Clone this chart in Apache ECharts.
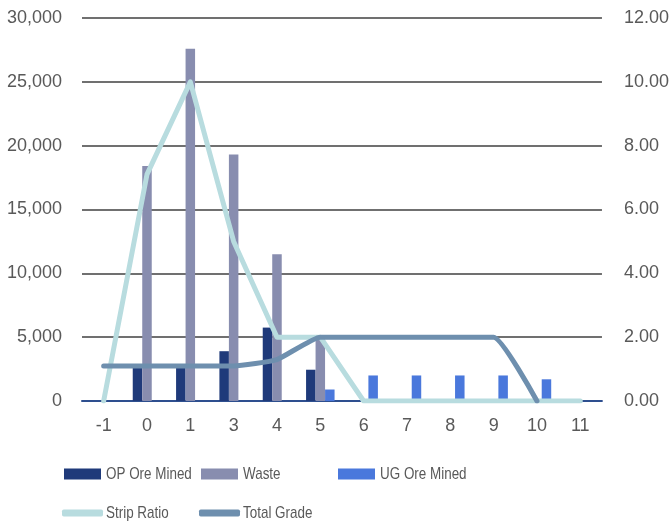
<!DOCTYPE html>
<html>
<head>
<meta charset="utf-8">
<script src="https://cdn.jsdelivr.net/npm/echarts@6/dist/echarts.min.js"></script>
<style>
  html, body { margin: 0; padding: 0; background: #ffffff; }
  #chart { width: 672px; height: 525px; }
</style>
</head>
<body>
<div id="chart"></div>
<script>
// Mining schedule by period
const periods = ['-1', '0', '1', '3', '4', '5', '6', '7', '8', '9', '10', '11'];
const opOreMined = [null, 2600, 2750, 3900, 5750, 2450, null, null, null, null, null, null];
const waste      = [null, 18400, 27600, 19300, 11500, 5000, null, null, null, null, null, null];
const ugOreMined = [null, null, null, null, null, 900, 2000, 2000, 2000, 2000, 1700, null];
const stripRatio = [0, 7.1, 10, 5, 2, 2, 0, 0, 0, 0, 0, 0];
const totalGrade = [1.1, 1.1, 1.1, 1.1, 1.3, 2, 2, 2, 2, 2, 0, null];
const seriesNames = ['OP Ore Mined', 'Waste', 'UG Ore Mined', 'Strip Ratio', 'Total Grade'];

const leftTicks = { min: 0, max: 30000, interval: 5000 };
const rightTicks = { min: 0, max: 12, interval: 2 };

const FONT = '"Liberation Sans", Arial, sans-serif';
const TEXT = '#595959';

const colors = {
  op: '#1F3A7A',
  waste: '#888DAF',
  ug: '#4A78DC',
  strip: '#B8DCDF',
  grade: '#6E8FAE'
};

// Legend layout: two rows, fixed columns; labels set in a condensed face
const legendSlots = [
  { left: 64, top: 468.5, textX: 106, textY: 474.5, line: false },
  { left: 201, top: 468.5, textX: 243, textY: 474.5, line: false },
  { left: 338, top: 468.5, textX: 380, textY: 474.5, line: false },
  { left: 62, top: 509.5, textX: 106, textY: 513, line: true },
  { left: 199, top: 509.5, textX: 243, textY: 513, line: true }
];

const legends = seriesNames.map((name, i) => {
  const s = legendSlots[i];
  return {
    data: [name],
    left: s.left,
    top: s.top,
    padding: 0,
    itemGap: 0,
    itemWidth: s.line ? 41 : 37,
    itemHeight: s.line ? 7 : 11,
    icon: s.line ? 'roundRect' : 'rect',
    selectedMode: false,
    formatter: () => '',
    textStyle: { fontSize: 1 }
  };
});

const legendTexts = seriesNames.map((name, i) => {
  const s = legendSlots[i];
  return {
    type: 'text',
    x: s.textX,
    y: s.textY,
    scaleX: 0.79,
    scaleY: 1,
    silent: true,
    style: {
      text: name,
      x: 0,
      y: 0,
      font: '17px ' + FONT,
      fill: TEXT,
      textAlign: 'left',
      textVerticalAlign: 'middle',
      verticalAlign: 'middle'
    }
  };
});

const chart = echarts.init(document.getElementById('chart'), null, { renderer: 'canvas' });
chart.setOption({
  animation: false,
  backgroundColor: '#ffffff',
  grid: { left: 82, right: 69, top: 18, bottom: 124, containLabel: false },
  legend: legends,
  graphic: legendTexts,
  xAxis: {
    type: 'category',
    data: periods,
    axisLine: { show: true, lineStyle: { color: '#2E4F8F', width: 2 } },
    axisTick: { show: false },
    axisLabel: { margin: 16, fontFamily: FONT, fontSize: 18, color: TEXT }
  },
  yAxis: [
    {
      type: 'value',
      min: leftTicks.min, max: leftTicks.max, interval: leftTicks.interval,
      axisLine: { show: false },
      axisTick: { show: false },
      splitLine: { show: true, lineStyle: { color: '#404040', width: 1.5 } },
      axisLabel: {
        margin: 20, fontFamily: FONT, fontSize: 18, color: TEXT,
        formatter: v => v.toLocaleString('en-US')
      }
    },
    {
      type: 'value',
      min: rightTicks.min, max: rightTicks.max, interval: rightTicks.interval,
      axisLine: { show: false },
      axisTick: { show: false },
      splitLine: { show: false },
      axisLabel: {
        margin: 22, fontFamily: FONT, fontSize: 18, color: TEXT,
        formatter: v => v.toFixed(2)
      }
    }
  ],
  series: [
    { name: seriesNames[0], type: 'bar', data: opOreMined, barWidth: 9.5, barGap: '0%',
      itemStyle: { color: colors.op }, z: 2 },
    { name: seriesNames[1], type: 'bar', data: waste, barWidth: 9.5, barGap: '0%',
      itemStyle: { color: colors.waste }, z: 2 },
    { name: seriesNames[2], type: 'bar', data: ugOreMined, barWidth: 9.5, barGap: '0%',
      itemStyle: { color: colors.ug }, z: 2 },
    { name: seriesNames[3], type: 'line', yAxisIndex: 1, data: stripRatio,
      showSymbol: false, symbol: 'none',
      lineStyle: { color: colors.strip, width: 5, cap: 'round', join: 'round' },
      itemStyle: { color: colors.strip }, z: 3 },
    { name: seriesNames[4], type: 'line', yAxisIndex: 1, data: totalGrade,
      showSymbol: false, symbol: 'none', smooth: 0.15,
      lineStyle: { color: colors.grade, width: 5, cap: 'round', join: 'round' },
      itemStyle: { color: colors.grade }, z: 4 }
  ]
});
</script>
</body>
</html>
